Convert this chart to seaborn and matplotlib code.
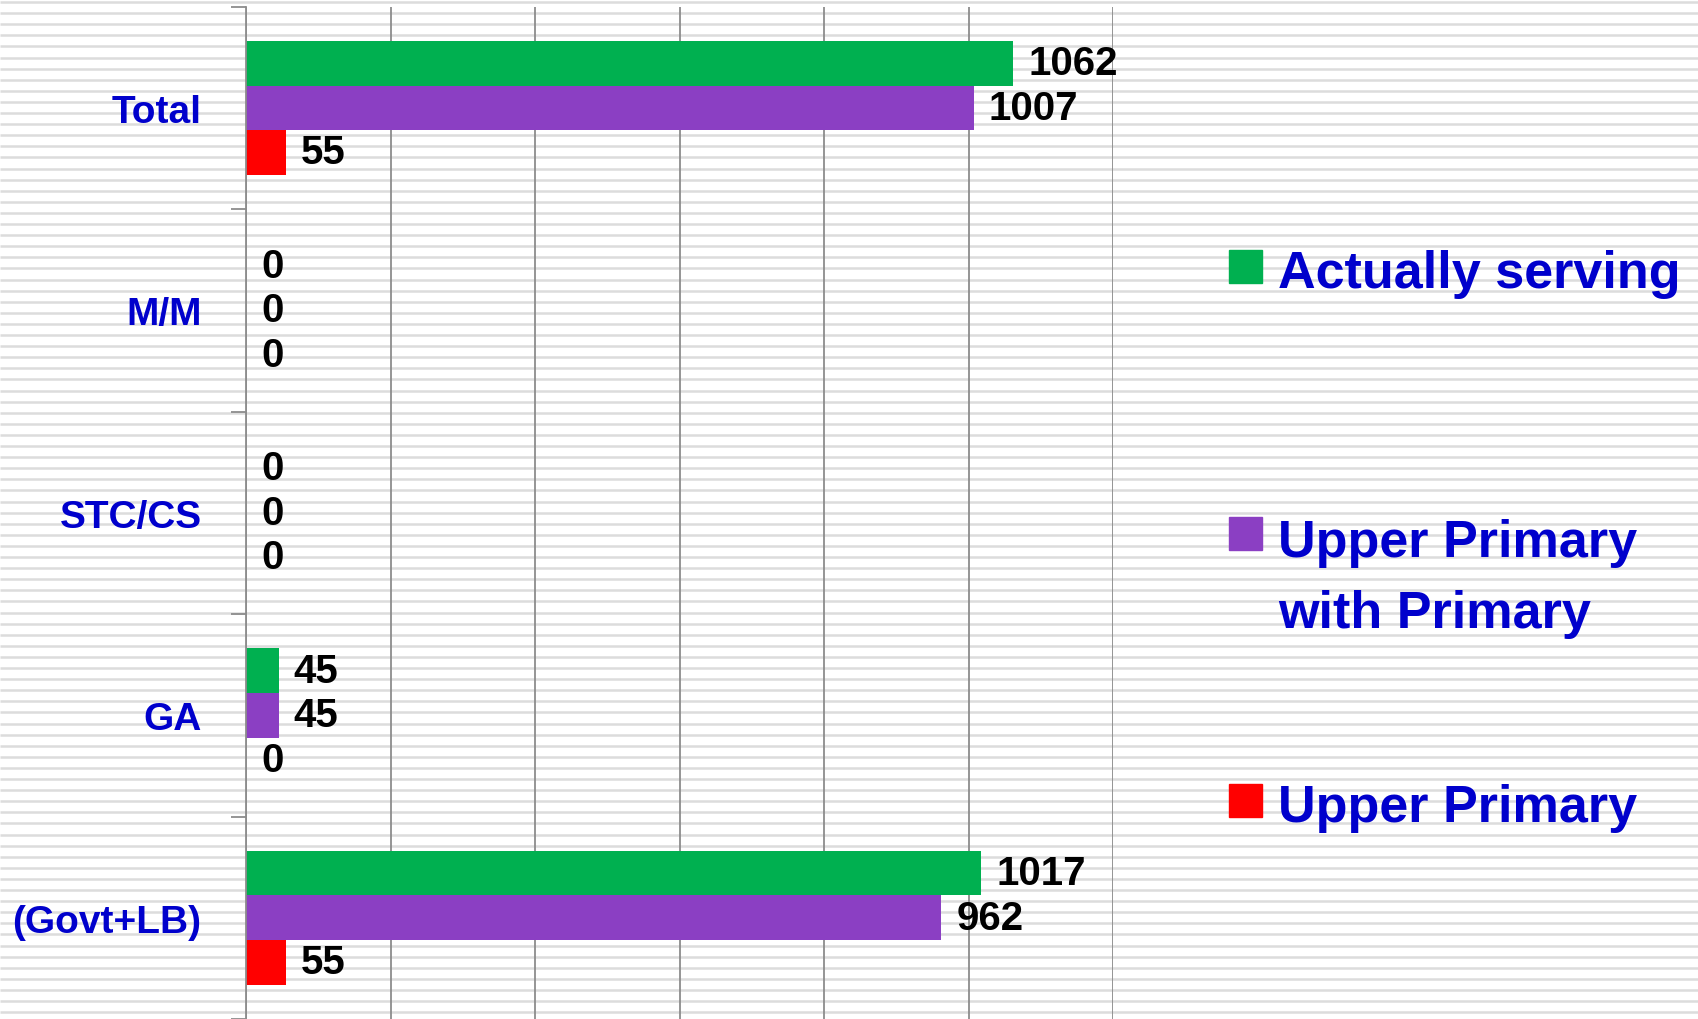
import numpy as np
import pandas as pd
import seaborn as sns
import matplotlib.pyplot as plt
from matplotlib.patches import Rectangle

# chart data
categories = ['Total', 'M/M', 'STC/CS', 'GA', '(Govt+LB)']
series = ['Actually serving', 'Upper Primary with Primary', 'Upper Primary']
legend_labels = ['Actually serving', 'Upper Primary\nwith Primary', 'Upper Primary']
actually_serving = [1062, 0, 0, 45, 1017]
upper_with_primary = [1007, 0, 0, 45, 962]
upper_primary = [55, 0, 0, 0, 55]
colors = ['#00b050', '#8b3fc3', '#ff0000']

df = pd.DataFrame({
    'cat': categories * 3,
    'series': np.repeat(series, len(categories)),
    'value': actually_serving + upper_with_primary + upper_primary,
})

sns.set_style('white')
plt.rcParams['font.family'] = ['Liberation Sans', 'DejaVu Sans']

fig = plt.figure(figsize=(16.98, 10.2), dpi=100)

# striped background
bg = fig.add_axes([0, 0, 1, 1], zorder=-1)
bg.set_xlim(0, 1698)
bg.set_ylim(1020, 0)
bg.hlines(np.arange(3, 1020, 11.1), 0, 1698, color='#dcdcdc', lw=1.8)
bg.axis('off')

ax = fig.add_axes([0.1449, 0.0, 0.5106, 0.9925])
ax.set_facecolor('none')
sns.barplot(data=df, y='cat', x='value', hue='series', order=categories,
            hue_order=series, palette=colors, saturation=1, width=0.66,
            orient='h', edgecolor='none', legend=False, ax=ax)

for c in ax.containers:
    ax.bar_label(c, padding=11, fontsize=29, fontweight='bold', color='black')

ax.set_xlim(0, 1200)
ax.set_ylim(len(categories) - 0.5, -0.5)
ax.set_xticks(np.arange(0, 1201, 200))
ax.set_xticklabels([])
ax.tick_params(axis='x', length=0)
ax.grid(axis='x', color='#8c8c8c', lw=1.3)
ax.set_axisbelow(True)

# ticks at category boundaries, labels at centres
ax.set_yticks(np.arange(-0.5, len(categories)), labels=[''] * (len(categories) + 1))
ax.set_yticks(np.arange(len(categories)), labels=categories, minor=True)
ax.tick_params(axis='y', which='major', length=11, width=1.3, color='#8c8c8c', left=True)
ax.tick_params(axis='y', which='minor', length=0, pad=32, labelsize=28,
               labelcolor='#0000cc')
for t in ax.get_yticklabels(minor=True):
    t.set_fontweight('bold')
ax.set_xlabel('')
ax.set_ylabel('')
for s in ['top', 'right', 'bottom']:
    ax.spines[s].set_visible(False)
ax.spines['left'].set_color('#8c8c8c')
ax.spines['left'].set_linewidth(1.3)

# legend drawn beside the plot
sq_tops = [251, 518, 785]
line_gap = 73
for lab, col, top in zip(legend_labels, colors, sq_tops):
    fig.add_artist(Rectangle((1229 / 1698, 1 - (top + 33) / 1020), 33 / 1698, 33 / 1020,
                             transform=fig.transFigure, color=col))
    base = top + 37 + line_gap * lab.count('\n')
    fig.text(1278 / 1698, 1 - base / 1020, lab, fontsize=37.5, fontweight='bold',
             color='#0000cc', va='baseline', ha='left', linespacing=1.58)

fig.savefig('out.png', dpi=100)
